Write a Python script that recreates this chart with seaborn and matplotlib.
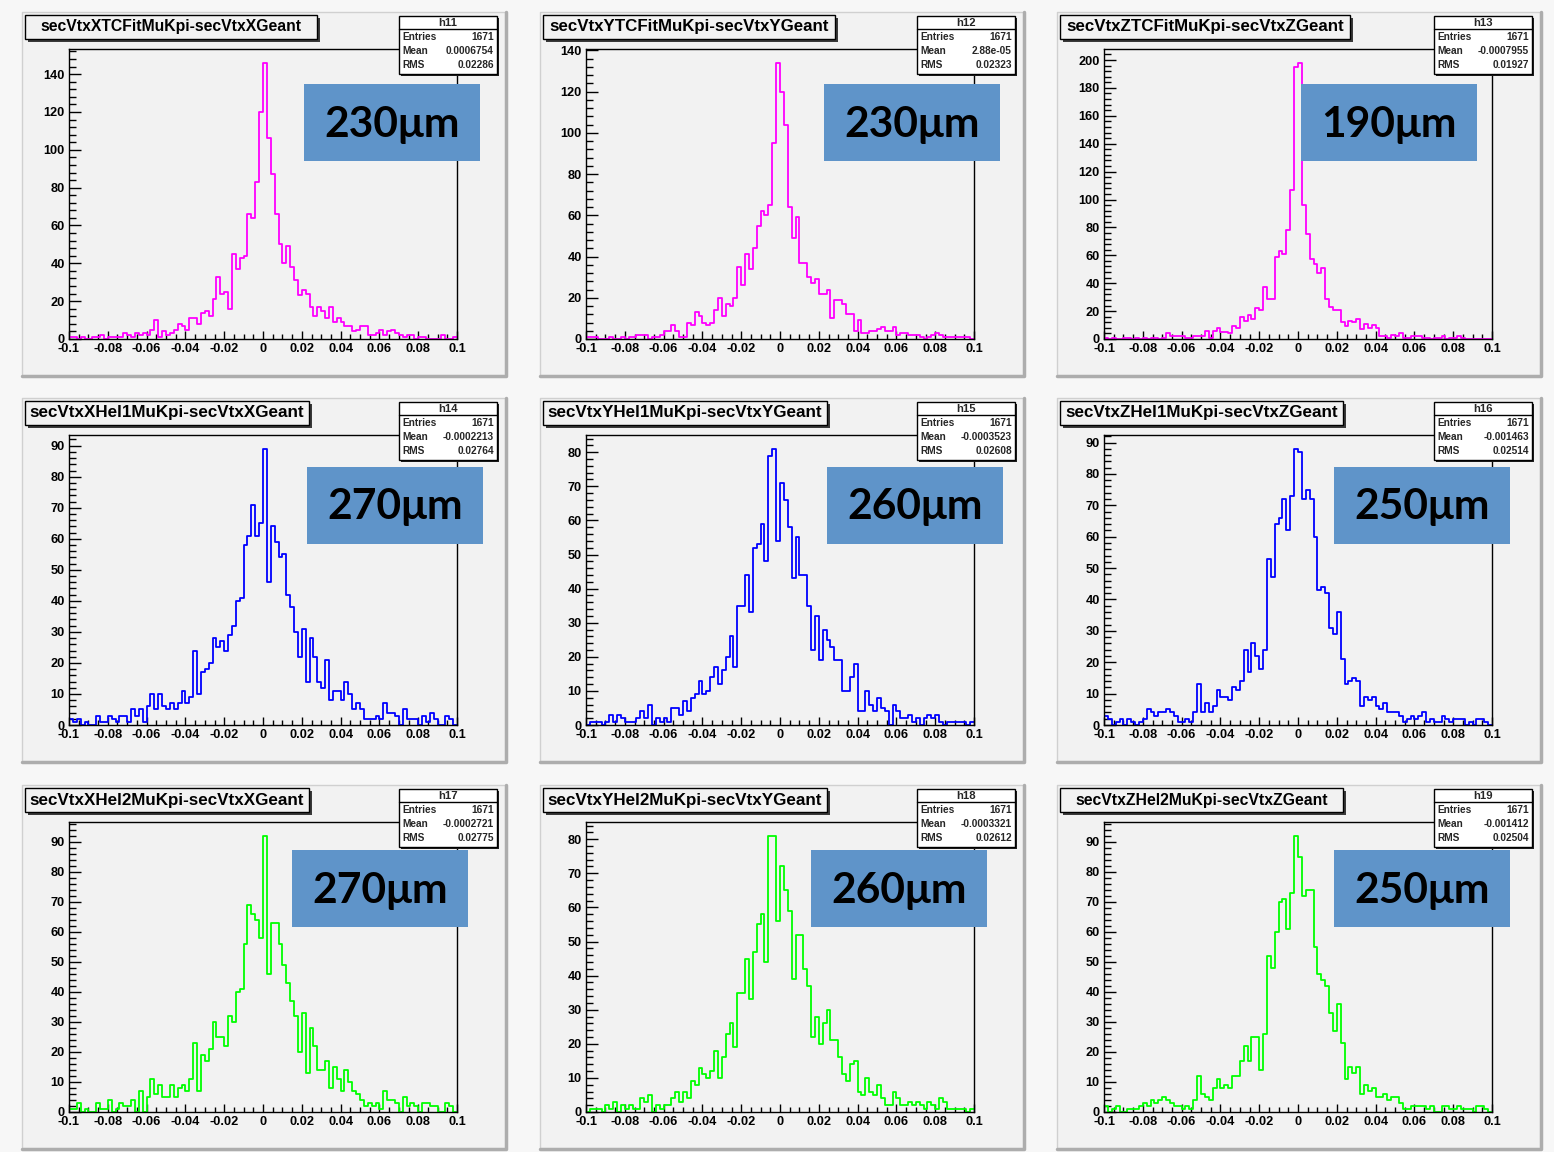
import numpy as np
import pandas as pd
import matplotlib
matplotlib.use("Agg")
import matplotlib.pyplot as plt
import seaborn as sns
from matplotlib.patches import Rectangle
from matplotlib.lines import Line2D
from matplotlib.ticker import MultipleLocator, FuncFormatter

# ---- histogram contents: 100 bins on [-0.1, 0.1] ----
h11 = [1, 1, 0, 1, 0, 0, 1, 1, 2, 0, 1, 1, 1, 1, 3, 2, 1, 3, 2, 3,
       2, 5, 10, 1, 4, 2, 3, 5, 8, 7, 5, 11, 11, 8, 14, 15, 12, 21, 33, 24,
       25, 16, 45, 37, 43, 44, 66, 64, 83, 120, 146, 106, 87, 66, 50, 40, 49, 38, 31, 23,
       26, 24, 17, 12, 17, 15, 11, 17, 9, 11, 9, 7, 7, 4, 5, 7, 7, 2, 2, 3,
       5, 2, 4, 5, 3, 2, 1, 2, 2, 0, 1, 1, 0, 0, 0, 0, 2, 0, 0, 1]
h12 = [1, 1, 1, 0, 0, 0, 1, 0, 0, 1, 0, 1, 1, 2, 2, 2, 0, 1, 1, 2,
       4, 4, 7, 4, 1, 1, 8, 7, 13, 11, 8, 7, 8, 14, 20, 11, 17, 16, 20, 35,
       26, 41, 34, 44, 55, 62, 60, 65, 95, 134, 120, 104, 64, 49, 59, 37, 37, 30, 27, 29,
       22, 22, 24, 10, 19, 19, 17, 12, 12, 4, 9, 3, 3, 4, 4, 5, 6, 4, 4, 6,
       2, 3, 3, 2, 2, 2, 1, 0, 1, 2, 3, 2, 1, 1, 1, 1, 1, 1, 1, 0]
h13 = [1, 0, 1, 0, 0, 1, 1, 0, 1, 0, 1, 0, 1, 1, 0, 1, 4, 2, 2, 2,
       2, 1, 1, 2, 2, 2, 6, 1, 6, 8, 5, 5, 4, 9, 8, 16, 13, 17, 14, 22,
       21, 37, 29, 29, 59, 63, 61, 78, 107, 195, 198, 96, 75, 57, 54, 47, 51, 29, 23, 21,
       21, 12, 9, 13, 12, 14, 7, 11, 8, 10, 8, 2, 2, 1, 3, 2, 4, 1, 1, 2,
       2, 2, 1, 1, 0, 1, 1, 2, 0, 1, 1, 2, 1, 0, 0, 0, 0, 0, 0, 0]
h14 = [2, 1, 2, 0, 1, 0, 0, 3, 1, 1, 3, 2, 1, 3, 3, 1, 5, 3, 5, 1,
       6, 10, 5, 10, 6, 5, 7, 5, 7, 11, 7, 9, 24, 10, 17, 18, 20, 28, 25, 27,
       24, 29, 32, 40, 41, 58, 61, 71, 61, 65, 89, 46, 64, 59, 54, 55, 42, 38, 30, 22,
       31, 14, 28, 22, 14, 12, 21, 8, 11, 11, 8, 14, 10, 5, 7, 5, 2, 2, 2, 3,
       2, 7, 4, 4, 3, 0, 5, 2, 2, 2, 0, 3, 1, 4, 2, 0, 0, 3, 2, 0]
h15 = [0, 1, 1, 1, 0, 1, 3, 1, 3, 2, 1, 1, 1, 2, 4, 2, 6, 0, 2, 1,
       2, 1, 5, 5, 3, 7, 4, 8, 9, 13, 9, 10, 14, 17, 12, 16, 20, 26, 17, 35,
       35, 44, 33, 52, 53, 59, 48, 79, 81, 54, 71, 66, 58, 43, 55, 44, 44, 35, 22, 32,
       19, 28, 25, 23, 19, 19, 10, 10, 14, 18, 4, 4, 10, 6, 4, 8, 5, 4, 0, 6,
       4, 2, 2, 3, 1, 2, 0, 2, 3, 2, 3, 1, 0, 1, 1, 1, 1, 1, 0, 1]
h16 = [3, 2, 0, 1, 2, 0, 2, 1, 0, 1, 2, 5, 4, 3, 4, 4, 5, 4, 3, 1,
       1, 2, 1, 4, 13, 4, 7, 4, 6, 11, 9, 9, 8, 12, 11, 14, 24, 17, 26, 22,
       18, 24, 53, 47, 64, 66, 72, 62, 73, 88, 87, 72, 75, 72, 60, 43, 44, 42, 31, 29,
       36, 21, 13, 14, 15, 14, 6, 9, 8, 9, 6, 5, 7, 4, 4, 4, 3, 1, 2, 3,
       2, 3, 4, 1, 2, 1, 1, 3, 2, 1, 2, 2, 2, 0, 1, 0, 2, 2, 1, 0]
h17 = [1, 1, 3, 0, 1, 0, 0, 3, 1, 1, 4, 0, 1, 3, 2, 2, 4, 0, 7, 0,
       5, 11, 6, 9, 5, 5, 9, 5, 8, 9, 7, 11, 23, 7, 19, 17, 21, 30, 25, 25,
       22, 32, 30, 40, 41, 56, 69, 66, 64, 58, 92, 46, 63, 63, 56, 49, 43, 37, 32, 20,
       33, 13, 28, 22, 14, 14, 17, 8, 15, 11, 7, 14, 10, 7, 6, 4, 2, 3, 2, 3,
       1, 7, 4, 4, 3, 0, 5, 2, 3, 2, 0, 3, 3, 2, 2, 0, 0, 3, 2, 0]
h18 = [0, 1, 1, 1, 0, 2, 1, 3, 0, 2, 1, 2, 1, 1, 4, 3, 5, 0, 2, 1,
       2, 2, 4, 6, 3, 6, 4, 9, 8, 13, 11, 10, 12, 18, 10, 16, 23, 26, 19, 35,
       35, 45, 33, 47, 55, 58, 44, 81, 81, 56, 72, 65, 59, 39, 52, 52, 42, 37, 22, 28,
       20, 26, 30, 21, 21, 16, 11, 9, 14, 15, 6, 5, 10, 6, 5, 8, 4, 2, 2, 6,
       4, 2, 2, 3, 2, 3, 2, 1, 3, 2, 1, 4, 3, 1, 1, 1, 1, 1, 0, 1]
h19 = [2, 0, 1, 2, 0, 0, 1, 1, 1, 2, 3, 2, 4, 3, 4, 5, 4, 3, 2, 2,
       1, 2, 1, 4, 12, 6, 5, 4, 8, 11, 8, 9, 8, 12, 12, 17, 22, 17, 25, 25,
       14, 26, 52, 48, 60, 70, 71, 61, 73, 92, 85, 72, 74, 74, 55, 46, 44, 42, 33, 27,
       36, 23, 11, 15, 13, 15, 6, 9, 7, 8, 5, 5, 6, 4, 5, 5, 3, 1, 1, 2,
       2, 2, 2, 1, 2, 0, 0, 2, 2, 1, 1, 2, 1, 1, 1, 0, 2, 2, 1, 0]

x_low, x_high, n_bins = -0.1, 0.1, 100

hist_names = ["h11", "h12", "h13", "h14", "h15", "h16", "h17", "h18", "h19"]
titles = ["secVtxXTCFitMuKpi-secVtxXGeant", "secVtxYTCFitMuKpi-secVtxYGeant",
          "secVtxZTCFitMuKpi-secVtxZGeant", "secVtxXHel1MuKpi-secVtxXGeant",
          "secVtxYHel1MuKpi-secVtxYGeant", "secVtxZHel1MuKpi-secVtxZGeant",
          "secVtxXHel2MuKpi-secVtxXGeant", "secVtxYHel2MuKpi-secVtxYGeant",
          "secVtxZHel2MuKpi-secVtxZGeant"]
entries = ["1671"] * 9
means = ["0.0006754", "2.88e-05", "-0.0007955", "-0.0002213", "-0.0003523",
         "-0.001463", "-0.0002721", "-0.0003321", "-0.001412"]
rms_vals = ["0.02286", "0.02323", "0.01927", "0.02764", "0.02608",
            "0.02514", "0.02775", "0.02612", "0.02504"]
resolutions = ["230μm", "230μm", "190μm", "270μm", "260μm", "250μm",
               "270μm", "260μm", "250μm"]
line_colors = ["#ff00ff"] * 3 + ["#0000ff"] * 3 + ["#00ff00"] * 3
all_counts = [h11, h12, h13, h14, h15, h16, h17, h18, h19]

# ---- layout (pixel geometry of the 3x3 canvas) ----
W, H = 1554, 1152
pad_x = [22, 540, 1057]
pad_y = [12, 398, 785]
pad_w, pad_h = 484, 364
ax_x = [69, 586, 1104]
ax_y = [49, 435, 822]
ax_w, ax_h = 388, 290
title_box_w = [292, 292, 290, 284, 284, 283, 284, 284, 283]
title_text_w = [261, 280, 278, 274, 273, 272, 274, 273, 252]
label_dx = [282, 284, 244, 285, 287, 277, 270, 271, 277]
label_dy = [72, 72, 72, 69, 69, 69, 65, 65, 65]
label_w, label_h = 176, 77

sns.set_theme(style="ticks")
plt.rcParams["font.family"] = ["Liberation Sans", "DejaVu Sans"]
plt.rcParams["font.weight"] = "bold"

fig = plt.figure(figsize=(W / 100, H / 100), dpi=100)
fig.patch.set_facecolor("#f7f7f7")
renderer = fig.canvas.get_renderer()


def fx(px):
    return px / W


def fy(py):
    return 1 - py / H


def frect(x0, y0, x1, y1, **kw):
    r = Rectangle((fx(x0), fy(y1)), fx(x1) - fx(x0), fy(y0) - fy(y1),
                  transform=fig.transFigure, **kw)
    fig.add_artist(r)
    return r


def fline(xs, ys, **kw):
    fig.add_artist(Line2D([fx(x) for x in xs], [fy(y) for y in ys],
                          transform=fig.transFigure, **kw))


def fit_text(t, width_px):
    bb = t.get_window_extent(renderer)
    t.set_fontsize(t.get_fontsize() * width_px / bb.width)


def xfmt(v, _):
    v = round(v, 3) + 0.0
    return f"{v:g}"


edges = np.linspace(x_low, x_high, n_bins + 1)
centers = 0.5 * (edges[:-1] + edges[1:])

for k in range(9):
    r, c = divmod(k, 3)
    px0, py0 = pad_x[c], pad_y[r]

    # pad background with bevelled border
    frect(px0, py0, px0 + pad_w, py0 + pad_h, facecolor="#f2f2f2",
          edgecolor="none", zorder=0)
    fline([px0, px0, px0 + pad_w], [py0 + pad_h, py0, py0],
          color="#d0d0d0", lw=1.0, zorder=1)
    fline([px0 + pad_w, px0 + pad_w, px0], [py0, py0 + pad_h, py0 + pad_h],
          color="#adadad", lw=2.5, zorder=1)

    # histogram frame
    ax = fig.add_axes([fx(ax_x[c]), fy(ax_y[r] + ax_h), ax_w / W, ax_h / H])
    ax.set_facecolor("#f2f2f2")
    counts = all_counts[k]
    df = pd.DataFrame({"x": centers, "n": counts})
    sns.histplot(data=df, x="x", weights="n", bins=n_bins,
                 binrange=(x_low, x_high), element="step",
                 fill=False, color=line_colors[k], linewidth=1.3, ax=ax)
    ax.set_xlim(x_low, x_high)
    ax.set_ylim(0, 1.05 * max(counts))
    ax.set_xlabel("")
    ax.set_ylabel("")
    for s in ax.spines.values():
        s.set_visible(True)
        s.set_color("black")
        s.set_linewidth(1.0)
    ystep = 20 if max(counts) > 100 else 10
    ax.xaxis.set_major_locator(MultipleLocator(0.02))
    ax.xaxis.set_minor_locator(MultipleLocator(0.005))
    ax.yaxis.set_major_locator(MultipleLocator(ystep))
    ax.yaxis.set_minor_locator(MultipleLocator(ystep / 5))
    ax.xaxis.set_major_formatter(FuncFormatter(xfmt))
    ax.yaxis.set_major_formatter(FuncFormatter(lambda v, _: f"{v:g}"))
    ax.tick_params(axis="both", which="both", direction="in", top=False,
                   right=False, color="black", width=1.0, labelsize=9.2,
                   labelcolor="black", pad=3)
    ax.tick_params(axis="x", which="major", length=6)
    ax.tick_params(axis="x", which="minor", length=3.5)
    ax.tick_params(axis="y", which="major", length=8.5)
    ax.tick_params(axis="y", which="minor", length=4.8)
    for lab in ax.get_xticklabels() + ax.get_yticklabels():
        lab.set_fontweight("bold")

    # title box with shadow
    tx0, ty0 = px0 + 3, py0 + 3
    tx1, ty1 = tx0 + title_box_w[k], py0 + 27
    frect(tx0 + 3, ty0 + 3, tx1 + 3, ty1 + 3, facecolor="#3a3a3a",
          edgecolor="none", zorder=5)
    frect(tx0, ty0, tx1, ty1, facecolor="#f2f2f2", edgecolor="black",
          lw=1.0, zorder=6)
    t = fig.text(fx((tx0 + tx1) / 2), fy((ty0 + ty1) / 2), titles[k],
                 ha="center", va="center", fontsize=10, fontweight="bold",
                 color="black", zorder=7)
    fit_text(t, title_text_w[k])

    # statistics box
    sx0, sy0 = px0 + 377, py0 + 4
    sx1, sy1 = sx0 + 98, py0 + 62
    frect(sx0 + 2, sy0 + 2, sx1 + 2, sy1 + 2, facecolor="#202020",
          edgecolor="none", zorder=5)
    frect(sx0, sy0, sx1, sy1, facecolor="white", edgecolor="black",
          lw=1.0, zorder=6)
    fline([sx0, sx1], [sy0 + 13, sy0 + 13], color="black", lw=1.0, zorder=7)
    fig.text(fx((sx0 + sx1) / 2), fy(sy0 + 6.8), hist_names[k], ha="center",
             va="center", fontsize=8.2, fontweight="bold", zorder=7)
    rows = [("Entries", entries[k]), ("Mean", means[k]), ("RMS", rms_vals[k])]
    for j, (name, val) in enumerate(rows):
        yy = sy0 + 21 + 14 * j
        fig.text(fx(sx0 + 3), fy(yy), name, ha="left", va="center",
                 fontsize=7.3, fontweight="bold", zorder=7)
        fig.text(fx(sx1 - 3), fy(yy), val, ha="right", va="center",
                 fontsize=7.3, fontweight="bold", zorder=7)

    # resolution label
    bx0, by0 = px0 + label_dx[k], py0 + label_dy[k]
    bx1, by1 = bx0 + label_w, by0 + label_h
    frect(bx0, by0, bx1, by1, facecolor="#5f94c9", edgecolor="none", zorder=8)
    lt = fig.text(fx((bx0 + bx1) / 2), fy((by0 + by1) / 2 + 2), resolutions[k],
                  ha="center", va="center", fontsize=30, fontweight="bold",
                  family=["Lato", "Open Sans", "DejaVu Sans"], color="black",
                  zorder=9)
    fit_text(lt, 135)

fig.savefig("out.png", dpi=100, facecolor=fig.get_facecolor())
